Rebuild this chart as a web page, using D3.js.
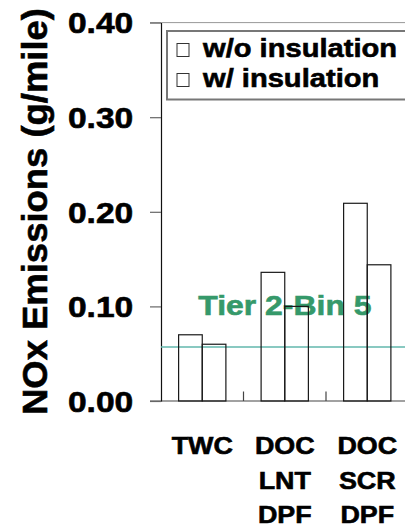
<!DOCTYPE html>
<html>
<head>
<meta charset="utf-8">
<script src="https://cdn.jsdelivr.net/npm/d3@7"></script>
<style>
  html, body { margin: 0; padding: 0; background: #fff; }
  svg { display: block; }
  text { font-family: "Liberation Sans", Arial, Helvetica, sans-serif; font-weight: bold; stroke-width: 0.6; }
</style>
</head>
<body>
<svg id="chart" width="405" height="530"></svg>
<script>
// NOx emissions by aftertreatment configuration, with and without insulation
const categories = ["TWC", "DOC LNT DPF", "DOC SCR DPF"];
const categoryLines = [["TWC"], ["DOC", "LNT", "DPF"], ["DOC", "SCR", "DPF"]];
const seriesNames = ["w/o insulation", "w/ insulation"];
const withoutInsulation = [0.070, 0.136, 0.209];
const withInsulation = [0.060, 0.100, 0.144];
const tier2Bin5 = 0.057;
const tier2Label = "Tier 2-Bin 5";
const yTicks = [0.00, 0.10, 0.20, 0.30, 0.40];
const yTitle = "NOx Emissions (g/mile)";

const seriesValues = [withoutInsulation, withInsulation];
const rows = categories.map((c, i) => ({
  cat: c,
  values: seriesNames.map((s, j) => ({ series: s, value: seriesValues[j][i] }))
}));

const svg = d3.select("#chart");
const plotLeft = 161, plotRight = 408.5, plotTop = 22.6, plotBottom = 401;
const stretch = 1.12; // wide lettering

const y = d3.scaleLinear().domain([0, 0.40]).range([plotBottom, plotTop]);
const x0 = d3.scaleBand().domain(categories).range([plotLeft, plotRight]).padding(0);
const x1 = d3.scaleBand().domain(seriesNames).range([0, x0.bandwidth()])
  .paddingInner(0).paddingOuter(0.745);

// plot frame: top border and x baseline
svg.append("line").attr("x1", 150).attr("x2", 420).attr("y1", y(0.40)).attr("y2", y(0.40))
  .attr("stroke", "#999").attr("stroke-width", 1);
svg.append("line").attr("x1", 150).attr("x2", 420).attr("y1", y(0)).attr("y2", y(0))
  .attr("stroke", "#444").attr("stroke-width", 1.2);

// y axis
const yAxis = d3.axisLeft(y).tickValues(yTicks).tickSize(11).tickSizeOuter(0).tickFormat("");
const yg = svg.append("g").attr("transform", `translate(${plotLeft},0)`).call(yAxis);
yg.select(".domain").attr("stroke", "#111").attr("stroke-width", 1.2);
yg.selectAll(".tick line").attr("stroke", "#666").attr("stroke-width", 1.2);

// y tick labels
svg.append("g").selectAll("g").data(yTicks).join("g")
  .attr("transform", d => `translate(133.3,${y(d) + 10.7}) scale(${stretch},1)`)
  .append("text")
  .attr("text-anchor", "end")
  .attr("font-size", 30)
  .attr("fill", "#000").attr("stroke", "#000")
  .text(d => d3.format(".2f")(d));

// y title
svg.append("text")
  .attr("transform", "translate(47,211.5) rotate(-90)")
  .attr("text-anchor", "middle")
  .attr("font-size", 35)
  .attr("textLength", 407)
  .attr("lengthAdjust", "spacingAndGlyphs")
  .attr("fill", "#000").attr("stroke", "#000")
  .text(yTitle);

// category separators (inward ticks)
svg.append("g").selectAll("line").data(categories.slice(1)).join("line")
  .attr("x1", d => x0(d)).attr("x2", d => x0(d))
  .attr("y1", y(0)).attr("y2", y(0) - 9.5)
  .attr("stroke", "#444").attr("stroke-width", 1.2);

// category labels, one word per line
const lineBaselines = [454.3, 488.5, 522.7];
const catG = svg.append("g").selectAll("g").data(categories).join("g");
catG.each(function(c, i) {
  const g = d3.select(this);
  categoryLines[i].forEach((word, k) => {
    g.append("g")
      .attr("transform", `translate(${x0(c) + x0.bandwidth() / 2},${lineBaselines[k]}) scale(${stretch},1)`)
      .append("text")
      .attr("text-anchor", "middle")
      .attr("font-size", 24)
      .attr("fill", "#000").attr("stroke", "#000")
      .text(word);
  });
});

// reference standard label and line
svg.append("g")
  .attr("transform", `translate(284.9,315) scale(${stretch},1)`)
  .append("text")
  .attr("text-anchor", "middle")
  .attr("font-size", 28.5)
  .attr("fill", "#35996a").attr("stroke", "#35996a")
  .text(tier2Label);
svg.append("line")
  .attr("x1", plotLeft).attr("x2", 420)
  .attr("y1", y(tier2Bin5)).attr("y2", y(tier2Bin5))
  .attr("stroke", "#62b7ad").attr("stroke-width", 1.5);

// bars (outline only)
svg.append("g").selectAll("g").data(rows).join("g")
  .attr("transform", d => `translate(${x0(d.cat)},0)`)
  .selectAll("rect").data(d => d.values).join("rect")
  .attr("x", d => x1(d.series))
  .attr("y", d => y(d.value))
  .attr("width", x1.bandwidth())
  .attr("height", d => y(0) - y(d.value))
  .attr("fill", "none")
  .attr("stroke", "#1a1a1a")
  .attr("stroke-width", 1.2);

// legend
const lg = svg.append("g");
lg.append("rect").attr("x", 167).attr("y", 31).attr("width", 260).attr("height", 68.5)
  .attr("fill", "#fff").attr("stroke", "#777").attr("stroke-width", 2);
const legendBaselines = [57, 87];
seriesNames.forEach((s, i) => {
  lg.append("rect").attr("x", 177).attr("y", legendBaselines[i] - 13.5).attr("width", 12).attr("height", 13)
    .attr("fill", "#fff").attr("stroke", "#333").attr("stroke-width", 1);
  lg.append("g").attr("transform", `translate(203,${legendBaselines[i]}) scale(${stretch},1)`)
    .append("text")
    .attr("font-size", 26)
    .attr("fill", "#000").attr("stroke", "#000")
    .text(s);
});
</script>
</body>
</html>
